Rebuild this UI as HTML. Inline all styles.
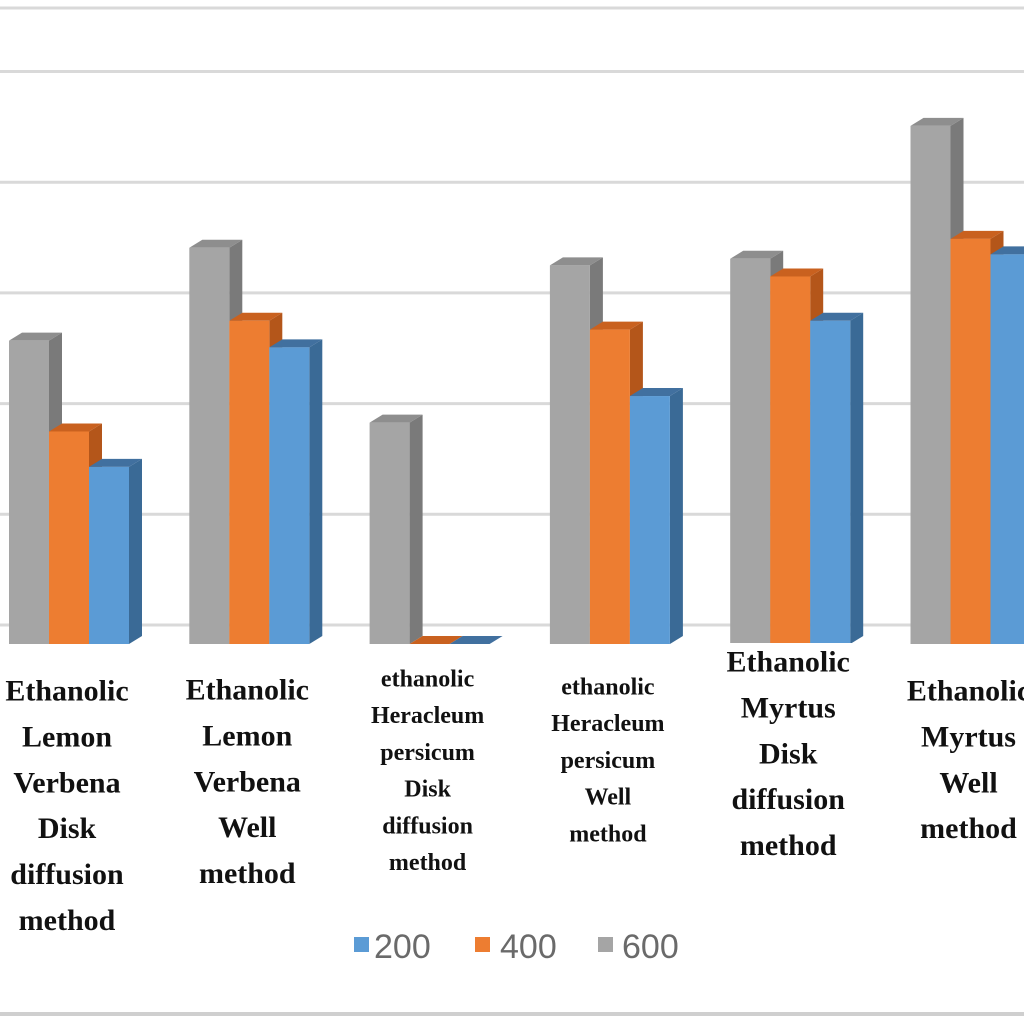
<!DOCTYPE html>
<html><head><meta charset="utf-8"><style>
html,body{margin:0;padding:0;background:#fff;width:1024px;height:1024px;overflow:hidden}
svg{display:block}
.lab{font-family:"Liberation Serif",serif;font-weight:bold;fill:#111;text-anchor:middle}
.leg{font-family:"Liberation Sans",sans-serif;font-size:34px;fill:#6a6a6a}
</style></head><body>
<svg id="chart" width="1024" height="1024" viewBox="0 0 1024 1024">
<rect x="0" y="0" width="1024" height="1024" fill="#fff"/>
<line x1="0" y1="8" x2="1024" y2="8" stroke="#d9d9d9" stroke-width="3"/>
<line x1="0" y1="1014" x2="1024" y2="1014" stroke="#cfcfcf" stroke-width="4"/>
<g id="grid"></g>
<g id="bars"></g>
<g id="labels"></g>
<g>
  <g><rect x="354" y="937" width="15" height="15" fill="#5b9bd5"/><text class="leg" x="374" y="958">200</text></g>
  <g><rect x="475" y="937" width="15" height="15" fill="#ed7d31"/><text class="leg" x="500" y="958">400</text></g>
  <g><rect x="598" y="937" width="15" height="15" fill="#a5a5a5"/><text class="leg" x="622" y="958">600</text></g>
</g>
</svg>
<script>
const categories = [
  ["Ethanolic","Lemon","Verbena","Disk","diffusion","method"],
  ["Ethanolic","Lemon","Verbena","Well","method"],
  ["ethanolic","Heracleum","persicum","Disk","diffusion","method"],
  ["ethanolic","Heracleum","persicum","Well","method"],
  ["Ethanolic","Myrtus","Disk","diffusion","method"],
  ["Ethanolic","Myrtus","Well","method"]
];
const seriesNames = ["600","400","200"];
const s600 = [13.7, 17.9, 10.0, 17.1, 17.4, 23.4];
const s400 = [9.6, 14.6, 0, 14.2, 16.6, 18.3];
const s200 = [8.0, 13.4, 0, 11.2, 14.6, 17.6];
const gridTicks = [0, 5, 10, 15, 20, 25, 30];
const labelFont = [30, 30, 24, 24, 30, 30];
const labelTop = [690, 689, 678, 686, 661, 690];

const NS = "http://www.w3.org/2000/svg";
const base = 644, pxPerUnit = 22.14, barW = 40, dx = 13, dy = 8;
function yScale(v){ return base - v * pxPerUnit; }
function groupX(i){ return 9 + 180.3 * i; }
const colors = [["#a5a5a5","#7a7a7a","#8e8e8e"],["#ed7d31","#b4561a","#c9611f"],["#5b9bd5","#3a6a96","#41709f"]];

const grid = document.getElementById("grid");
gridTicks.forEach(t => {
  const y = yScale(t) - 19;
  const l = document.createElementNS(NS, "line");
  l.setAttribute("x1", 0); l.setAttribute("x2", 1024);
  l.setAttribute("y1", y); l.setAttribute("y2", y);
  l.setAttribute("stroke", "#d9d9d9"); l.setAttribute("stroke-width", 3);
  
  
  grid.appendChild(l);
});

const bars = document.getElementById("bars");
const series = [s600, s400, s200];
categories.forEach((c, i) => {
  series.forEach((s, k) => {
    const x = groupX(i) + k * barW;
    const yt = yScale(s[i]);
    const g = document.createElementNS(NS, "g");
    
    
    const side = document.createElementNS(NS, "polygon");
    side.setAttribute("points", `${x+barW},${yt} ${x+barW+dx},${yt-dy} ${x+barW+dx},${base-dy} ${x+barW},${base}`);
    side.setAttribute("fill", colors[k][1]);
    const top = document.createElementNS(NS, "polygon");
    top.setAttribute("points", `${x},${yt} ${x+dx},${yt-dy} ${x+barW+dx},${yt-dy} ${x+barW},${yt}`);
    top.setAttribute("fill", colors[k][2]);
    const front = document.createElementNS(NS, "rect");
    front.setAttribute("x", x); front.setAttribute("y", yt);
    front.setAttribute("width", barW); front.setAttribute("height", base - yt);
    front.setAttribute("fill", colors[k][0]);
    g.appendChild(side); g.appendChild(top); g.appendChild(front);
    bars.appendChild(g);
  });
});

const labels = document.getElementById("labels");
categories.forEach((lines, i) => {
  const cx = groupX(i) + 58;
  const fs = labelFont[i], lh = fs * 1.53;
  if (i >= 4) {
    const r = document.createElementNS(NS, "rect");
    r.setAttribute("x", cx - 78); r.setAttribute("y", labelTop[i] - 18);
    r.setAttribute("width", 156); r.setAttribute("height", lines.length * lh + 20);
    r.setAttribute("fill", "#fff");
    
    
    labels.appendChild(r);
  }
  const t = document.createElementNS(NS, "text");
  t.setAttribute("class", "lab");
  t.setAttribute("font-size", fs);
  
  
  lines.forEach((ln, j) => {
    const sp = document.createElementNS(NS, "tspan");
    sp.setAttribute("x", cx);
    sp.setAttribute("y", labelTop[i] + fs * 0.35 + j * lh);
    sp.textContent = ln;
    t.appendChild(sp);
  });
  labels.appendChild(t);
});
</script>
</body></html>
